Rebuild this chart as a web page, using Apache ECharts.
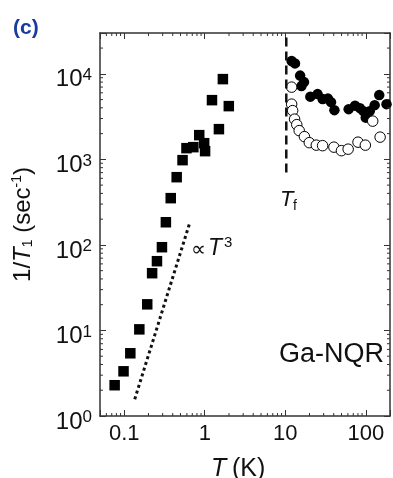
<!DOCTYPE html>
<html>
<head>
<meta charset="utf-8">
<script src="https://cdn.jsdelivr.net/npm/echarts@6/dist/echarts.min.js"></script>
<style>
html, body { margin: 0; padding: 0; background: #fff; }
#main { width: 393px; height: 478px; }
</style>
</head>
<body>
<div id="main"></div>
<script>
// T (K) and 1/T1 (sec^-1)
var squareT = [0.076, 0.098, 0.119, 0.154, 0.193, 0.222, 0.255, 0.294, 0.329, 0.378, 0.448, 0.530, 0.593, 0.722, 0.854, 0.983, 1.01, 1.23, 1.50, 1.68, 1.99];
var squareR = [2.29, 3.33, 5.41, 10.3, 20.2, 46.7, 64.5, 94, 184, 352, 619, 979, 1352, 1389, 1919, 1546, 1247, 4922, 2255, 8670, 4190];

var filledT = [12.0, 13.2, 15.3, 17.1, 15.9, 20.5, 25.2, 29.1, 33.9, 37.0, 40.8, 61.3, 73.6, 84.7, 93.5, 100, 112, 129, 147, 181];
var filledR = [14090, 13240, 9525, 8000, 7180, 5410, 5790, 5060, 5130, 4667, 3760, 3865, 4247, 3970, 3660, 3074, 3660, 4305, 5636, 4422];

var openT = [12.0, 12.0, 12.35, 13.06, 13.9, 14.9, 17.3, 19.9, 24.3, 29.1, 40.2, 49.9, 60.4, 80.1, 98.8, 122, 150.7];
var openR = [6985, 4420, 3713, 2952, 2546, 2167, 1843, 1568, 1466, 1446, 1389, 1264, 1316, 1589, 1466, 2798, 1819];

// T^3 guide line end points
var cubeT = [0.135, 0.65];
var cubeR = [1.57, 180];

// T_f marker
var tfT = [10.3, 10.3];
var tfR = [700, 30000];

var xRange = [0.05, 200];
var yRange = [1, 30000];
var xMinor = [0.06, 0.07, 0.08, 0.09, 0.2, 0.3, 0.4, 0.5, 0.6, 0.7, 0.8, 0.9,
              2, 3, 4, 5, 6, 7, 8, 9, 20, 30, 40, 50, 60, 70, 80, 90];
var yMinor = [2, 3, 4, 5, 6, 7, 8, 9, 20, 30, 40, 50, 60, 70, 80, 90,
              200, 300, 400, 500, 600, 700, 800, 900, 2000, 3000, 4000, 5000, 6000, 7000, 8000, 9000, 20000];

function pairs(a, b) {
    return a.map(function (v, i) { return [v, b[i]]; });
}
function isDecade(v) {
    var l = Math.log10(v);
    return Math.abs(l - Math.round(l)) < 1e-6;
}

var FONT = 'Liberation Sans, Arial, sans-serif';
var INK = '#111';
var AXIS = '#333';
var BLUE = '#1a3c9c';

var lineSt = { stroke: AXIS, lineWidth: 1 };
function xMinorItem(params, api) {
    var cs = params.coordSys;
    var p = api.coord([api.value(0), api.value(1)]);
    var b = cs.y + cs.height;
    return { type: 'group', children: [
        { type: 'line', shape: { x1: p[0], y1: b, x2: p[0], y2: b - 3 }, style: lineSt },
        { type: 'line', shape: { x1: p[0], y1: cs.y, x2: p[0], y2: cs.y + 3 }, style: lineSt }
    ]};
}
function yMinorItem(params, api) {
    var cs = params.coordSys;
    var p = api.coord([api.value(0), api.value(1)]);
    var r = cs.x + cs.width;
    return { type: 'group', children: [
        { type: 'line', shape: { x1: cs.x, y1: p[1], x2: cs.x + 3, y2: p[1] }, style: lineSt },
        { type: 'line', shape: { x1: r, y1: p[1], x2: r - 3, y2: p[1] }, style: lineSt }
    ]};
}

// plain text piece for the annotations
function txt(s, x, y, font, color, align) {
    return {
        type: 'text', x: x, y: y, silent: true,
        style: {
            text: s, font: font, fill: color || INK,
            align: align || 'left', textAlign: align || 'left',
            verticalAlign: 'middle', textVerticalAlign: 'middle'
        }
    };
}

var axisCommon = {
    type: 'log',
    logBase: 10,
    splitLine: { show: false },
    axisLine: { show: true, onZero: false, lineStyle: { color: AXIS, width: 1.5 } },
    axisTick: { show: true, inside: true, length: 6, lineStyle: { color: AXIS, width: 1 } }
};

var myChart = echarts.init(document.getElementById('main'));
var option = {
    animation: false,
    backgroundColor: '#fff',
    grid: { left: 98, right: 1, top: 33, bottom: 62 },
    xAxis: [
        Object.assign({}, axisCommon, {
            position: 'bottom', min: xRange[0], max: xRange[1],
            axisLabel: {
                show: true, margin: 7, color: INK, fontFamily: FONT, fontSize: 22,
                formatter: function (v) { return isDecade(v) ? String(+v.toPrecision(3)) : ''; }
            }
        }),
        Object.assign({}, axisCommon, {
            position: 'top', min: xRange[0], max: xRange[1],
            axisLabel: { show: false }
        })
    ],
    yAxis: [
        Object.assign({}, axisCommon, {
            position: 'left', min: yRange[0], max: yRange[1],
            name: '{n|1/}{i|T}{sub|1}{n| (sec}{sup|-1}{n|)}',
            nameLocation: 'middle', nameRotate: 90, nameGap: 62,
            nameTextStyle: {
                color: INK, fontFamily: FONT,
                rich: {
                    n: { fontSize: 24, fontFamily: FONT, color: INK, lineHeight: 30 },
                    i: { fontSize: 24, fontFamily: FONT, fontStyle: 'italic', color: INK, lineHeight: 30 },
                    sub: { fontSize: 14, fontFamily: FONT, color: INK, verticalAlign: 'bottom', lineHeight: 14, padding: [0, 0, 3, 0] },
                    sup: { fontSize: 14, fontFamily: FONT, color: INK, verticalAlign: 'top', lineHeight: 14, padding: [2, 0, 0, 0] }
                }
            },
            axisLabel: {
                show: true, margin: 8, color: INK, fontFamily: FONT,
                formatter: function (v) {
                    if (!isDecade(v)) return '';
                    return '{b|10}{s|' + Math.round(Math.log10(v)) + '}';
                },
                rich: {
                    b: { fontSize: 24, fontFamily: FONT, color: INK, lineHeight: 24, padding: [12, 0, 0, 0] },
                    s: { fontSize: 17, fontFamily: FONT, color: INK, lineHeight: 17, verticalAlign: 'top', padding: [5, 0, 0, 0] }
                }
            }
        }),
        Object.assign({}, axisCommon, {
            position: 'right', min: yRange[0], max: yRange[1],
            axisLabel: { show: false }
        })
    ],
    graphic: [
        txt('(c)', 13, 28, 'bold 21px ' + FONT, BLUE),
        txt('\u221D', 191, 251, '21px DejaVu Sans, ' + FONT),
        txt('T', 208, 249, 'italic 23px ' + FONT),
        txt('3', 224, 243, '15px ' + FONT),
        txt('T', 280, 200, 'italic 22px ' + FONT),
        txt('f', 293, 206, '14px ' + FONT),
        txt('Ga-NQR', 384, 355, '27px ' + FONT, INK, 'right'),
        txt('T', 211, 469, 'italic 25px ' + FONT),
        txt('(K)', 232, 469, '25px ' + FONT)
    ],
    series: [
        {
            type: 'custom', name: 'xminor', xAxisIndex: 0, yAxisIndex: 0, silent: true, z: 5,
            renderItem: xMinorItem,
            data: xMinor.map(function (v) { return [v, yRange[0]]; })
        },
        {
            type: 'custom', name: 'yminor', xAxisIndex: 0, yAxisIndex: 0, silent: true, z: 5,
            renderItem: yMinorItem,
            data: yMinor.map(function (v) { return [xRange[0], v]; })
        },
        {
            type: 'line', name: 'Tf', data: pairs(tfT, tfR), symbol: 'none', silent: true,
            lineStyle: { color: INK, width: 2.5, type: [9, 5] }
        },
        {
            type: 'line', name: 'T3', data: pairs(cubeT, cubeR), symbol: 'none', silent: true,
            lineStyle: { color: INK, width: 3, type: [3, 3] }
        },
        {
            type: 'scatter', name: 'square', data: pairs(squareT, squareR),
            symbol: 'rect', symbolSize: 10.5, itemStyle: { color: '#000', opacity: 1 }
        },
        {
            type: 'scatter', name: 'filled', data: pairs(filledT, filledR),
            symbol: 'circle', symbolSize: 10.5, itemStyle: { color: '#000', opacity: 1 }
        },
        {
            type: 'scatter', name: 'open', data: pairs(openT, openR),
            symbol: 'circle', symbolSize: 10.5,
            itemStyle: { color: '#fff', borderColor: '#000', borderWidth: 1, opacity: 1 }
        }
    ]
};
myChart.setOption(option);
</script>
</body>
</html>
